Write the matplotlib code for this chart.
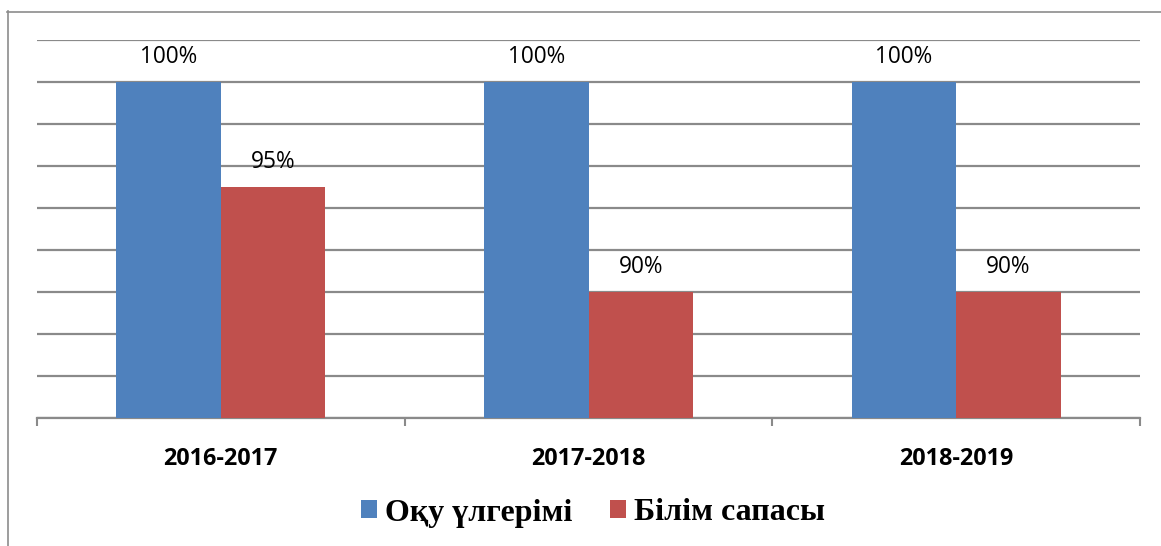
import matplotlib
matplotlib.use("Agg")
import matplotlib.pyplot as plt
from matplotlib.lines import Line2D
import numpy as np

categories = ["2016-2017", "2017-2018", "2018-2019"]
series_names = ["Оқу үлгерімі", "Білім сапасы"]
oqu = [100, 100, 100]
bilim = [95, 90, 90]
labels_oqu = ["100%", "100%", "100%"]
labels_bilim = ["95%", "90%", "90%"]

W, H = 1161, 546
fig = plt.figure(figsize=(W / 100, H / 100), dpi=100)
ax = fig.add_axes([37 / W, 1 - 418 / H, (1140 - 37) / W, (418 - 40) / H])

x = np.arange(len(categories))
bw = 0.284
b1 = ax.bar(x - bw / 2, oqu, bw, color="#4F81BD", zorder=3, label=series_names[0])
b2 = ax.bar(x + bw / 2, bilim, bw, color="#C0504D", zorder=3, label=series_names[1])

for bars, labs in ((b1, labels_oqu), (b2, labels_bilim)):
    for rect, lab in zip(bars, labs):
        ax.annotate(lab, (rect.get_x() + rect.get_width() / 2, rect.get_height()),
                    xytext=(0, 14), textcoords="offset points", ha="center", va="baseline",
                    fontsize=16.3, family="Open Sans", color="black", zorder=4)

ax.set_ylim(84, 102)
ax.set_xlim(-0.5, 2.5)
ax.set_yticks(np.arange(84, 103, 2))
ax.yaxis.grid(True, color="#8a8a8a", linewidth=1.6, zorder=0)
ax.tick_params(axis="y", left=False, labelleft=False)
for s in ("top", "right", "left"):
    ax.spines[s].set_visible(False)
ax.spines["bottom"].set_color("#8a8a8a")
ax.spines["bottom"].set_linewidth(1.6)
ax.set_xticks(x)
ax.set_xticklabels(categories, fontsize=16.8, fontweight="bold", family="Open Sans")
ax.tick_params(axis="x", which="major", length=0, pad=21)
ax.set_xticks([-0.5, 0.5, 1.5, 2.5], minor=True)
ax.tick_params(axis="x", which="minor", length=6, width=1.5, color="#8a8a8a")

leg = ax.legend(loc="center", bbox_to_anchor=(593 / W, 1 - 513 / H), bbox_transform=fig.transFigure,
                ncol=2, frameon=False, handlelength=0.5, handleheight=0.5, handletextpad=0.25,
                columnspacing=1.2, prop={"family": "Liberation Serif", "weight": "bold", "size": 23})

fig.add_artist(Line2D([7.5 / W, 7.5 / W], [0, 1 - 11 / H], transform=fig.transFigure, color="#8c8c8c", lw=1.2))
fig.add_artist(Line2D([7 / W, 1], [1 - 11.5 / H, 1 - 11.5 / H], transform=fig.transFigure, color="#8c8c8c", lw=1.2))

fig.savefig("out.png", dpi=100)
